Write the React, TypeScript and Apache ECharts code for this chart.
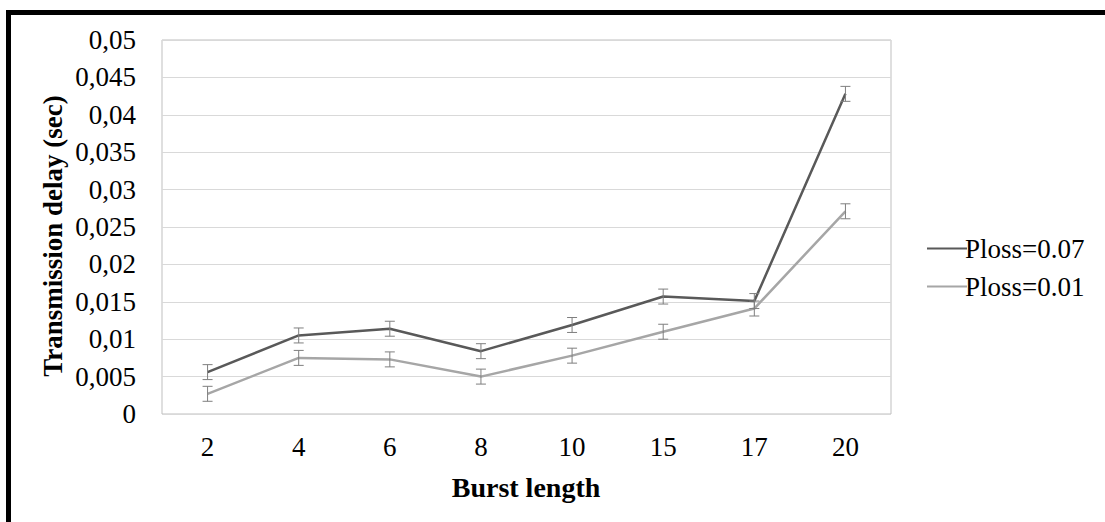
import React, { useEffect, useRef } from "react";
import * as echarts from "echarts";

const categories = ["2", "4", "6", "8", "10", "15", "17", "20"];
const plossHigh = [0.0056, 0.0105, 0.0114, 0.0084, 0.0119, 0.0157, 0.0151, 0.0428];
const plossLow = [0.0027, 0.0075, 0.0073, 0.005, 0.0078, 0.011, 0.0141, 0.0271];
const errHigh = [0.001, 0.001, 0.001, 0.001, 0.001, 0.001, 0.001, 0.001];
const errLow = [0.001, 0.001, 0.001, 0.001, 0.001, 0.001, 0.001, 0.001];
const seriesNames = ["Ploss=0.07", "Ploss=0.01"];
const yTicks = [0, 0.005, 0.01, 0.015, 0.02, 0.025, 0.03, 0.035, 0.04, 0.045, 0.05];

const FONT = "Liberation Serif";
const FS = 27;

function errorSeries(values: number[], errs: number[]) {
  const data = values.map((v, i) => [i, v - errs[i], v + errs[i]]);
  return {
    type: "custom",
    silent: true,
    z: 3,
    renderItem: (params: any, api: any) => {
      const x = api.value(0);
      const lo = api.coord([x, api.value(1)]);
      const hi = api.coord([x, api.value(2)]);
      const half = 5;
      const style = { stroke: "#7f7f7f", lineWidth: 1 };
      return {
        type: "group",
        children: [
          { type: "line", shape: { x1: lo[0], y1: lo[1], x2: hi[0], y2: hi[1] }, style },
          { type: "line", shape: { x1: lo[0] - half, y1: lo[1], x2: lo[0] + half, y2: lo[1] }, style },
          { type: "line", shape: { x1: hi[0] - half, y1: hi[1], x2: hi[0] + half, y2: hi[1] }, style },
        ],
      };
    },
    data,
  };
}

export default function App() {
  const ref = useRef<HTMLDivElement>(null);
  useEffect(() => {
    document.body.style.margin = "0";
    const chart = echarts.init(ref.current!, null, { renderer: "svg" });
    chart.setOption({
      animation: false,
      backgroundColor: "#ffffff",
      textStyle: { fontFamily: FONT, color: "#000" },
      grid: {
        left: 162,
        right: 214,
        top: 40,
        bottom: 108,
        show: true,
        borderColor: "#bfbfbf",
        borderWidth: 1,
      },
      legend: {
        orient: "vertical",
        left: 922,
        top: 230,
        itemGap: 11,
        itemWidth: 40,
        itemHeight: 4,
        data: seriesNames.map((n) => ({ name: n, icon: "path://M0,0L40,0L40,2L0,2Z" })),
        textStyle: { fontFamily: FONT, fontSize: FS, color: "#000", padding: [0, 0, 0, -7] },
      },
      xAxis: {
        type: "category",
        data: categories,
        boundaryGap: true,
        axisLine: { show: false },
        axisTick: { show: false },
        axisLabel: { fontFamily: FONT, fontSize: FS, color: "#000", margin: 19 },
        splitLine: { show: false },
      },
      yAxis: {
        type: "value",
        min: 0,
        max: 0.05,
        interval: 0.005,
        axisLine: { show: false },
        axisTick: { show: false },
        axisLabel: {
          fontFamily: FONT,
          fontSize: FS,
          color: "#000",
          margin: 26,
          formatter: (v: number) => {
            const t = yTicks.reduce((a, b) => (Math.abs(b - v) < Math.abs(a - v) ? b : a), 0);
            return t === 0 ? "0" : String(+t.toFixed(4)).replace(".", ",");
          },
        },
        splitLine: { lineStyle: { color: "#d9d9d9", width: 1 } },
      },
      graphic: [
        { type: "line", shape: { x1: 6, y1: 12.5, x2: 1105, y2: 12.5 }, style: { stroke: "#000", lineWidth: 5 } },
        { type: "line", shape: { x1: 8.5, y1: 10, x2: 8.5, y2: 522 }, style: { stroke: "#000", lineWidth: 5 } },
        {
          type: "text",
          x: 53,
          y: 236,
          rotation: Math.PI / 2,
          style: {
            text: "Transmission delay (sec)",
            fontFamily: FONT,
            fontSize: FS,
            fontWeight: "bold",
            fill: "#000",
            align: "center",
            verticalAlign: "middle",
          },
        },
        {
          type: "text",
          x: 526,
          y: 487,
          style: {
            text: "Burst length",
            fontFamily: FONT,
            fontSize: 28,
            fontWeight: "bold",
            fill: "#000",
            align: "center",
            verticalAlign: "middle",
          },
        },
      ],
      series: [
        {
          name: seriesNames[0],
          type: "line",
          data: plossHigh,
          symbol: "none",
          lineStyle: { color: "#595959", width: 2.5 },
          itemStyle: { color: "#595959" },
          z: 2,
        },
        {
          name: seriesNames[1],
          type: "line",
          data: plossLow,
          symbol: "none",
          lineStyle: { color: "#a6a6a6", width: 2.5 },
          itemStyle: { color: "#a6a6a6" },
          z: 2,
        },
        errorSeries(plossHigh, errHigh),
        errorSeries(plossLow, errLow),
      ],
    });
    return () => chart.dispose();
  }, []);
  return <div ref={ref} style={{ width: 1105, height: 522 }} />;
}
